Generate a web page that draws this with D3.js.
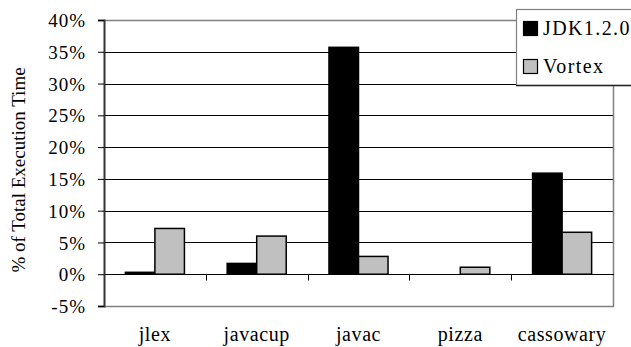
<!DOCTYPE html>
<meta charset="utf-8">
<style>
  body { margin: 0; background: white; }
  svg { display: block; }
  svg text { font-family: "Liberation Serif", "Times New Roman", Times, serif; font-size: 19px; fill: black; }
  .grid line { stroke: black; stroke-width: 1; }
</style>
<body>
</body>
<script src="https://cdn.jsdelivr.net/npm/d3@7"></script>
<script>
  const categories = ['jlex', 'javacup', 'javac', 'pizza', 'cassowary'];
  const series = ['JDK1.2.0', 'Vortex'];
  const jdkValues = [0.003, 0.017, 0.357, 0.0, 0.159];
  const vortexValues = [0.072, 0.060, 0.028, 0.011, 0.066];
  const yTicks = [-0.05, 0, 0.05, 0.10, 0.15, 0.20, 0.25, 0.30, 0.35, 0.40];
  const colors = ['#000000', '#c0c0c0'];

  const w = 631, h = 347;
  const l = 104, r = 613, t = 20, b = 306;

  const svg = d3.select('body').append('svg')
    .attr('width', w)
    .attr('height', h);

  const x0 = d3.scaleBand().domain(categories).range([l, r]).padding(0);
  const bw = x0.bandwidth();
  const x1 = d3.scaleBand().domain(series).range([bw * 0.21, bw * 0.79]);
  const y = d3.scaleLinear().domain([-0.05, 0.40]).range([b, t]);
  const pct = d => Math.round(d * 100) + '%';

  // gridlines
  svg.append('g').attr('class', 'grid')
    .selectAll('line')
    .data(yTicks.filter(d => d > 0 && d < 0.4))
    .join('line')
    .attr('x1', l).attr('x2', r)
    .attr('y1', d => Math.round(y(d)) + 0.5)
    .attr('y2', d => Math.round(y(d)) + 0.5);

  // plot border (top, right, bottom)
  svg.append('path')
    .attr('d', `M${l},${Math.round(t) + 0.5}H${r + 0.5}V${Math.round(b) + 0.5}H${l}`)
    .attr('fill', 'none')
    .attr('stroke', '#808080')
    .attr('stroke-width', 1.5);

  // bars
  const data = categories.map((c, i) => ({cat: c, vals: [jdkValues[i], vortexValues[i]]}));
  const groups = svg.append('g').selectAll('g')
    .data(data)
    .join('g')
    .attr('transform', d => `translate(${x0(d.cat)},0)`);

  groups.selectAll('rect')
    .data(d => d.vals.map((v, i) => ({s: series[i], v, i})).filter(e => e.v > 0))
    .join('rect')
    .attr('x', d => x1(d.s))
    .attr('width', x1.bandwidth())
    .attr('y', d => y(d.v))
    .attr('height', d => y(0) - y(d.v))
    .attr('fill', d => colors[d.i])
    .attr('stroke', 'black')
    .attr('stroke-width', 1.5);

  // zero line with category ticks
  const zeroAxis = svg.append('g')
    .attr('transform', `translate(0, ${Math.round(y(0)) + 0.5})`);
  zeroAxis.append('line')
    .attr('x1', l).attr('x2', r + 1)
    .attr('stroke', 'black');
  zeroAxis.selectAll('.ctick')
    .data(categories.slice(1))
    .join('line')
    .attr('class', 'ctick')
    .attr('x1', d => Math.round(x0(d)) + 0.5)
    .attr('x2', d => Math.round(x0(d)) + 0.5)
    .attr('y1', 0).attr('y2', 6)
    .attr('stroke', 'black');

  // left axis
  const yAxis = svg.append('g')
    .attr('transform', `translate(${l}, 0)`)
    .call(d3.axisLeft(y).tickValues(yTicks).tickFormat(pct)
      .tickSize(6).tickPadding(12))
    .attr('font-family', null).attr('font-size', null);
  yAxis.select('.domain').attr('stroke', '#333').attr('stroke-width', 2);
  yAxis.selectAll('.tick line').attr('stroke', 'black');
  yAxis.selectAll('.tick text')
    .attr('dy', '0.35em').style('letter-spacing', '1px');

  // category labels
  svg.append('g').selectAll('text')
    .data(categories)
    .join('text')
    .attr('x', d => x0(d) + bw / 2)
    .attr('y', 341)
    .attr('text-anchor', 'middle')
    .style('font-size', '20px')
    .style('letter-spacing', '0.6px')
    .text(d => d);

  // y axis title
  svg.append('text')
    .attr('transform', `translate(25, 170) rotate(-90)`)
    .attr('text-anchor', 'middle')
    .text('% of Total Execution Time');

  // legend
  const lg = svg.append('g').attr('transform', 'translate(516, 9)');
  lg.append('rect')
    .attr('x', 0.5).attr('y', 0.5)
    .attr('width', 140).attr('height', 76)
    .attr('fill', 'white')
    .attr('stroke', '#808080')
    .attr('stroke-width', 1.2);
  lg.append('line')
    .attr('x1', 0).attr('x2', 140)
    .attr('y1', 76.5).attr('y2', 76.5)
    .attr('stroke', '#222').attr('stroke-width', 1.5);
  const items = lg.selectAll('.item')
    .data(series)
    .join('g')
    .attr('class', 'item')
    .attr('transform', (d, i) => `translate(0, ${12 + i * 38})`);
  items.append('rect')
    .attr('x', 7.5).attr('y', 0.5)
    .attr('width', 14).attr('height', 14)
    .attr('fill', (d, i) => colors[i])
    .attr('stroke', 'black')
    .attr('stroke-width', 1.2);
  items.append('text')
    .attr('x', 27)
    .attr('y', 14)
    .style('font-size', '20px')
    .style('letter-spacing', '1.4px')
    .text(d => d);
</script>
